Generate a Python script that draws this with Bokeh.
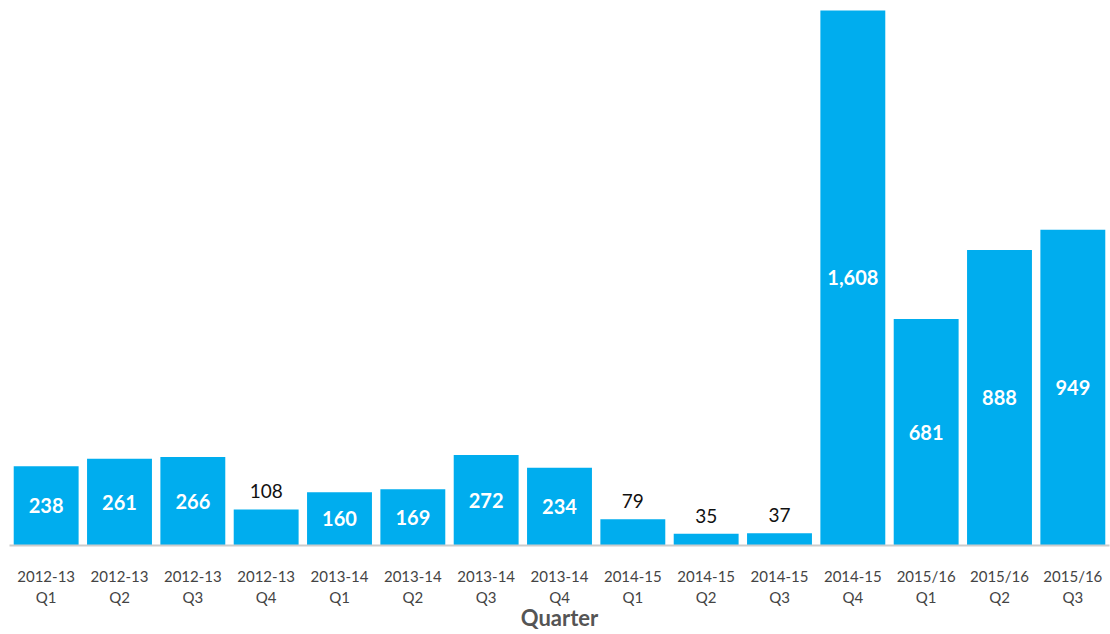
from bokeh.plotting import figure
from bokeh.models import ColumnDataSource, FactorRange, Range1d
from bokeh.core.properties import value
from bokeh.embed import file_html
from bokeh.resources import INLINE

quarters = ["2012-13\nQ1", "2012-13\nQ2", "2012-13\nQ3", "2012-13\nQ4",
            "2013-14\nQ1", "2013-14\nQ2", "2013-14\nQ3", "2013-14\nQ4",
            "2014-15\nQ1", "2014-15\nQ2", "2014-15\nQ3", "2014-15\nQ4",
            "2015/16\nQ1", "2015/16\nQ2", "2015/16\nQ3"]
counts = [238, 261, 266, 108, 160, 169, 272, 234, 79, 35, 37, 1608, 681, 888, 949]

inside_threshold = 150
labels = ["{:,}".format(v) for v in counts]
in_x = [q for q, v in zip(quarters, counts) if v >= inside_threshold]
in_y = [v / 2 for v in counts if v >= inside_threshold]
in_t = [l for l, v in zip(labels, counts) if v >= inside_threshold]
out_x = [q for q, v in zip(quarters, counts) if v < inside_threshold]
out_y = [v for v in counts if v < inside_threshold]
out_t = [l for l, v in zip(labels, counts) if v < inside_threshold]

p = figure(width=1110, height=634, output_backend="svg", toolbar_location=None,
           x_range=FactorRange(*quarters, range_padding=0),
           y_range=Range1d(0, 1638),
           min_border_left=9, min_border_right=1, min_border_top=0, min_border_bottom=0)

src = ColumnDataSource(dict(q=quarters, v=counts))
p.vbar(x="q", top="v", width=0.885, source=src, fill_color="#00ADEE", line_color=None)

p.text(x=in_x, y=in_y, text=in_t, text_color="white", text_font=value("Lato"),
       text_font_style="bold", text_font_size="20px", text_align="center",
       text_baseline="middle")
p.text(x=out_x, y=[v + 55 for v in out_y], text=out_t, text_color="#111111",
       text_font=value("Lato"), text_font_size="19px", text_align="center",
       text_baseline="middle")

p.yaxis.visible = False
p.grid.visible = False
p.outline_line_color = None
p.xaxis.axis_line_color = "#cccccc"
p.xaxis.axis_line_width = 2
p.xaxis.major_tick_line_color = None
p.xaxis.minor_tick_line_color = None
p.xaxis.major_label_text_font = "Lato"
p.xaxis.major_label_text_font_size = "15px"
p.xaxis.major_label_text_color = "#444444"
p.xaxis.major_label_standoff = 15
p.xaxis.axis_label = "Quarter"
p.xaxis.axis_label_text_font = "Lato"
p.xaxis.axis_label_text_font_style = "bold"
p.xaxis.axis_label_text_font_size = "22px"
p.xaxis.axis_label_text_color = "#555555"
p.xaxis.axis_label_standoff = -5

open("out.html", "w").write(file_html(p, INLINE))
